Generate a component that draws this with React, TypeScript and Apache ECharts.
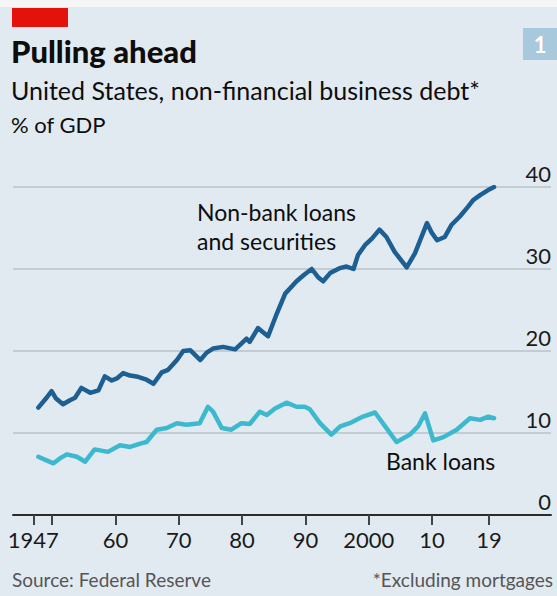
import React, { useEffect, useRef } from "react";
import * as echarts from "echarts";

const nonBankYears = [1947.8, 1949.0, 1949.9, 1950.6, 1951.7, 1952.8, 1953.6, 1954.6, 1956.0, 1957.3, 1958.3, 1959.4, 1960.3, 1961.2, 1962.3, 1963.3, 1964.9, 1966.0, 1967.3, 1968.3, 1969.7, 1970.7, 1971.8, 1973.4, 1974.4, 1975.4, 1977.0, 1978.9, 1980.0, 1980.7, 1981.2, 1982.5, 1983.3, 1984.1, 1985.5, 1986.8, 1988.6, 1989.8, 1991.0, 1992.0, 1992.8, 1993.9, 1995.4, 1996.5, 1997.6, 1998.3, 1999.4, 2000.5, 2001.7, 2002.8, 2004.1, 2006.0, 2007.3, 2009.2, 2009.9, 2010.8, 2012.0, 2013.1, 2014.4, 2015.7, 2016.5, 2017.6, 2018.8, 2019.8];
const nonBankValues = [13.1, 14.2, 15.1, 14.2, 13.5, 14.0, 14.3, 15.5, 14.9, 15.2, 16.9, 16.4, 16.7, 17.3, 17.0, 16.9, 16.5, 16.0, 17.4, 17.7, 18.9, 20.0, 20.1, 18.9, 19.8, 20.3, 20.5, 20.2, 21.0, 21.5, 21.1, 22.8, 22.3, 21.8, 24.6, 27.0, 28.5, 29.3, 30.0, 29.0, 28.5, 29.5, 30.1, 30.3, 30.0, 31.7, 32.9, 33.7, 34.8, 33.9, 32.1, 30.2, 31.9, 35.6, 34.5, 33.5, 33.9, 35.4, 36.4, 37.6, 38.4, 39.0, 39.6, 40.0];

const bankYears = [1947.8, 1949.0, 1950.2, 1951.2, 1952.3, 1953.9, 1955.2, 1956.7, 1958.8, 1960.7, 1962.3, 1963.9, 1964.9, 1966.5, 1968.1, 1969.7, 1971.2, 1973.3, 1974.6, 1975.4, 1976.8, 1978.3, 1979.9, 1981.2, 1982.8, 1983.9, 1985.2, 1987.0, 1988.6, 1989.9, 1990.7, 1992.3, 1994.1, 1995.5, 1997.0, 1999.1, 2001.0, 2002.6, 2004.4, 2006.5, 2007.8, 2008.9, 2010.2, 2011.8, 2013.9, 2016.0, 2017.6, 2018.9, 2019.8];
const bankValues = [7.1, 6.7, 6.3, 6.9, 7.4, 7.1, 6.5, 8.0, 7.7, 8.5, 8.3, 8.7, 8.9, 10.4, 10.6, 11.2, 11.0, 11.2, 13.2, 12.6, 10.6, 10.4, 11.2, 11.1, 12.6, 12.2, 13.0, 13.7, 13.2, 13.2, 12.9, 11.2, 9.8, 10.8, 11.2, 12.0, 12.5, 10.8, 8.9, 9.8, 10.8, 12.4, 9.1, 9.5, 10.4, 11.8, 11.6, 12.0, 11.8];

const xTickYears = [1947, 1950, 1960, 1970, 1980, 1990, 2000, 2010, 2019];
const xLabelYears = [1947, 1960, 1970, 1980, 1990, 2000, 2010, 2019];
const xLabelTexts = ["1947", "60", "70", "80", "90", "2000", "10", "19"];
const yTicks = [0, 10, 20, 30, 40];

const FONT = "Lato, 'Noto Sans', sans-serif";

export default function App() {
  const ref = useRef<HTMLDivElement>(null);
  useEffect(() => {
    if (!ref.current) return;
    const chart = echarts.init(ref.current, null, { renderer: "svg" });
    const nonBank = nonBankYears.map((y, i) => [y, nonBankValues[i]]);
    const bank = bankYears.map((y, i) => [y, bankValues[i]]);
    chart.setOption({
      animation: false,
      backgroundColor: "#e2eaf1",
      grid: { left: 13, right: 6, top: 187, bottom: 81 },
      xAxis: {
        type: "value",
        min: 1943.8,
        max: 2028.8,
        splitLine: { show: false },
        axisLine: { show: true, lineStyle: { color: "#2b2b2b", width: 2 } },
        axisTick: {
          show: true,
          length: 10,
          customValues: xTickYears,
          lineStyle: { color: "#444", width: 2 },
        },
        axisLabel: {
          customValues: xLabelYears,
          formatter: (v: number) => {
            const i = xLabelYears.indexOf(Math.round(v));
            return i >= 0 ? xLabelTexts[i] : "";
          },
          fontFamily: FONT,
          fontSize: 22,
          color: "#1a1a1a",
          margin: 13,
        },
      },
      yAxis: {
        type: "value",
        position: "right",
        min: yTicks[0],
        max: yTicks[yTicks.length - 1],
        interval: 10,
        axisLine: { show: false },
        axisTick: { show: false },
        splitLine: { show: true, lineStyle: { color: "#b9c1c8", width: 1.5 } },
        axisLabel: {
          inside: true,
          margin: 0,
          verticalAlign: "bottom",
          padding: [0, 0, 3, 0],
          fontFamily: FONT,
          fontSize: 22,
          color: "#1a1a1a",
        },
      },
      series: [
        {
          type: "line",
          data: nonBank,
          showSymbol: false,
          symbol: "none",
          lineStyle: { color: "#1d5f92", width: 4.5, join: "round", cap: "round" },
          z: 3,
        },
        {
          type: "line",
          data: bank,
          showSymbol: false,
          symbol: "none",
          lineStyle: { color: "#3db9cf", width: 4.5, join: "round", cap: "round" },
          z: 2,
        },
      ],
      graphic: [
        { type: "rect", left: 0, top: 0, shape: { width: 557, height: 7 }, style: { fill: "#f4f6f8" }, z: 100 },
        { type: "rect", left: 12, top: 8, shape: { width: 56, height: 19 }, style: { fill: "#e3120b" }, z: 100 },
        { type: "rect", left: 523, top: 28, shape: { width: 34, height: 32 }, style: { fill: "#a8c8db" }, z: 100 },
        { type: "text", x: 540, y: 44, style: { text: "1", fill: "#ffffff", font: `bold 22px ${FONT}`, align: "center", verticalAlign: "middle" }, z: 101 },
        { type: "text", x: 11, y: 35, style: { text: "Pulling ahead", fill: "#0d0d0d", font: `900 31px ${FONT}`, align: "left", verticalAlign: "top" }, z: 100 },
        { type: "text", x: 11, y: 77, style: { text: "United States, non-financial business debt*", fill: "#0d0d0d", font: `25px ${FONT}`, align: "left", verticalAlign: "top" }, z: 100 },
        { type: "text", x: 11, y: 113, style: { text: "% of GDP", fill: "#0d0d0d", font: `22px ${FONT}`, align: "left", verticalAlign: "top" }, z: 100 },
        { type: "text", x: 197, y: 197, style: { text: "Non-bank loans\nand securities", fill: "#0d0d0d", font: `23px ${FONT}`, lineHeight: 29, align: "left", verticalAlign: "top" }, z: 100 },
        { type: "text", x: 386, y: 449, style: { text: "Bank loans", fill: "#0d0d0d", font: `23px ${FONT}`, align: "left", verticalAlign: "top" }, z: 100 },
        { type: "text", x: 12, y: 570, style: { text: "Source: Federal Reserve", fill: "#555555", font: `19px ${FONT}`, align: "left", verticalAlign: "top" }, z: 100 },
        { type: "text", x: 553, y: 570, style: { text: "*Excluding mortgages", fill: "#555555", font: `19px ${FONT}`, align: "right", verticalAlign: "top" }, z: 100 },
      ],
    });
    return () => chart.dispose();
  }, []);
  return (
    <div
      ref={ref}
      style={{ position: "absolute", left: 0, top: 0, width: 557, height: 596 }}
    />
  );
}
